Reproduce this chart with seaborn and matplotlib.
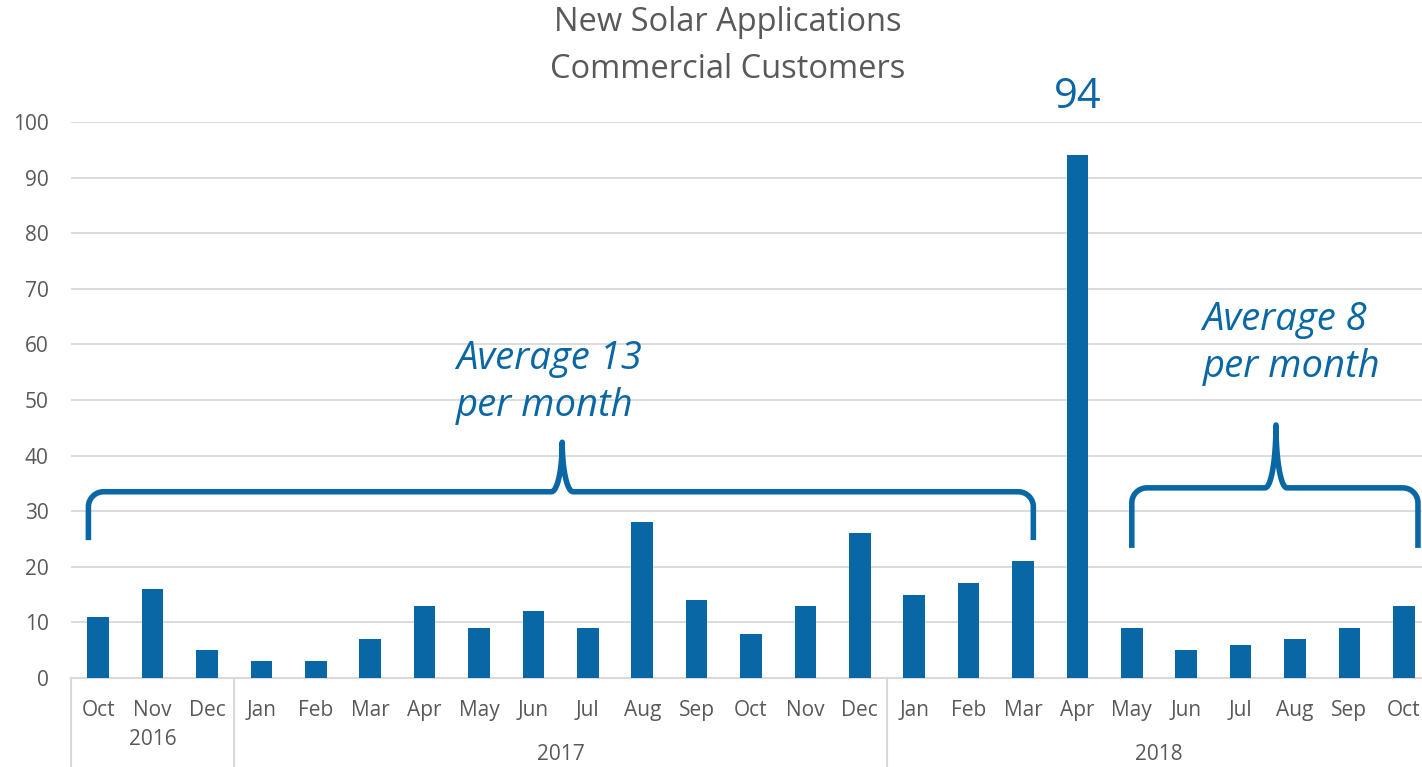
import matplotlib.pyplot as plt
import seaborn as sns
import numpy as np
import pandas as pd

# data
months = ['Oct', 'Nov', 'Dec',
          'Jan', 'Feb', 'Mar', 'Apr', 'May', 'Jun', 'Jul', 'Aug', 'Sep', 'Oct', 'Nov', 'Dec',
          'Jan', 'Feb', 'Mar', 'Apr', 'May', 'Jun', 'Jul', 'Aug', 'Sep', 'Oct']
years = [2016] * 3 + [2017] * 12 + [2018] * 10
applications = [11, 16, 5,
                3, 3, 7, 13, 9, 12, 9, 28, 14, 8, 13, 26,
                15, 17, 21, 94, 9, 5, 6, 7, 9, 13]
peak_label = '94'
avg_left = 'Average 13\nper month'
avg_right = 'Average 8\nper month'

BLUE = '#0a67a5'
TEXT = '#595959'
GRID = '#d9d9d9'

df = pd.DataFrame({'month': months, 'year': years, 'value': applications})
df['period'] = df['year'].astype(str) + '-' + df.index.astype(str)

sns.set_theme(style='white')
plt.rcParams['font.family'] = ['Open Sans', 'DejaVu Sans']

fig = plt.figure(figsize=(14.22, 7.67), dpi=100)
# plot area runs a little past the right edge of the image, as in the reference
ax = fig.add_axes([71 / 1422, 89 / 767, 1360 / 1422, 556 / 767])

sns.barplot(data=df, x='period', y='value', order=list(df['period']),
            color=BLUE, saturation=1, width=0.4, linewidth=0, ax=ax, zorder=3)

ax.set_xlim(-0.5, len(df) - 0.5)
ax.set_ylim(0, 100)
ax.set_yticks(np.arange(0, 101, 10))
ax.yaxis.grid(True, color=GRID, linewidth=1.3, zorder=0)
ax.set_axisbelow(True)
for s in ['top', 'right', 'left']:
    ax.spines[s].set_visible(False)
ax.spines['bottom'].set_color(GRID)
ax.spines['bottom'].set_linewidth(1.5)
ax.set_xlabel('')
ax.set_ylabel('')
ax.set_xticks(range(len(df)))
ax.set_xticklabels(df['month'])
ax.tick_params(axis='x', length=0, pad=15.5, labelsize=15, labelcolor=TEXT)
ax.tick_params(axis='y', length=0, pad=16, labelsize=15, labelcolor=TEXT)

# year groups below the month labels, with separators
trans = ax.get_xaxis_transform()
bounds = [-0.5]
for yr in df['year'].unique():
    idx = np.asarray(df.index[df['year'] == yr])
    bounds.append(idx[-1] + 0.5)
    ypos = -0.11 if len(idx) < 5 else -0.138
    ax.text(idx.mean(), ypos, str(yr), transform=trans, ha='center', va='center',
            fontsize=15, color=TEXT)
for b in bounds:
    ax.plot([b, b], [0, -0.16], transform=trans, color=GRID, lw=1.5, clip_on=False)

# title
fig.text(0.512, 0.971, 'New Solar Applications', ha='center', va='center',
         fontsize=23.5, color=TEXT)
fig.text(0.512, 0.909, 'Commercial Customers', ha='center', va='center',
         fontsize=23.5, color=TEXT)

# peak label
peak_i = int(np.argmax(df['value']))
ax.text(peak_i, df['value'].max() + 10.5, peak_label, ha='center', va='center',
        fontsize=30, color=BLUE)


def brace(ax, x0, x1, xm, y_end, y_flat, y_tip, r=0.28, rv=2.7, rt=0.2):
    t = np.linspace(0, np.pi / 2, 20)
    h = y_tip - y_flat
    xs = [x0]
    ys = [y_end]
    # left corner
    xs += list(x0 + r - r * np.cos(t)); ys += list(y_flat - rv + rv * np.sin(t))
    # rising cusp to the tip
    xs += list(xm - rt + rt * np.sin(t)); ys += list(y_tip - h * np.cos(t))
    # falling back down from the tip
    xs += list(xm + rt - rt * np.sin(t[::-1])); ys += list(y_tip - h * np.cos(t[::-1]))
    # right corner
    xs += list(x1 - r + r * np.sin(t)); ys += list(y_flat - rv + rv * np.cos(t))
    xs += [x1]; ys += [y_end]
    ax.plot(xs, ys, color=BLUE, lw=4, solid_capstyle='butt', zorder=5, clip_on=False)


brace(ax, -0.18, 17.19, 8.53, 24.8, 33.5, 42.4)
brace(ax, 19.0, 24.26, 21.65, 23.4, 34.2, 45.5)

ax.text(6.58, 53.1, avg_left, ha='left', va='center', fontsize=27.5, style='italic',
        color=BLUE, linespacing=1.3)
ax.text(20.3, 60.1, avg_right, ha='left', va='center', fontsize=27.5, style='italic',
        color=BLUE, linespacing=1.3)

fig.savefig('out.png', dpi=100)
